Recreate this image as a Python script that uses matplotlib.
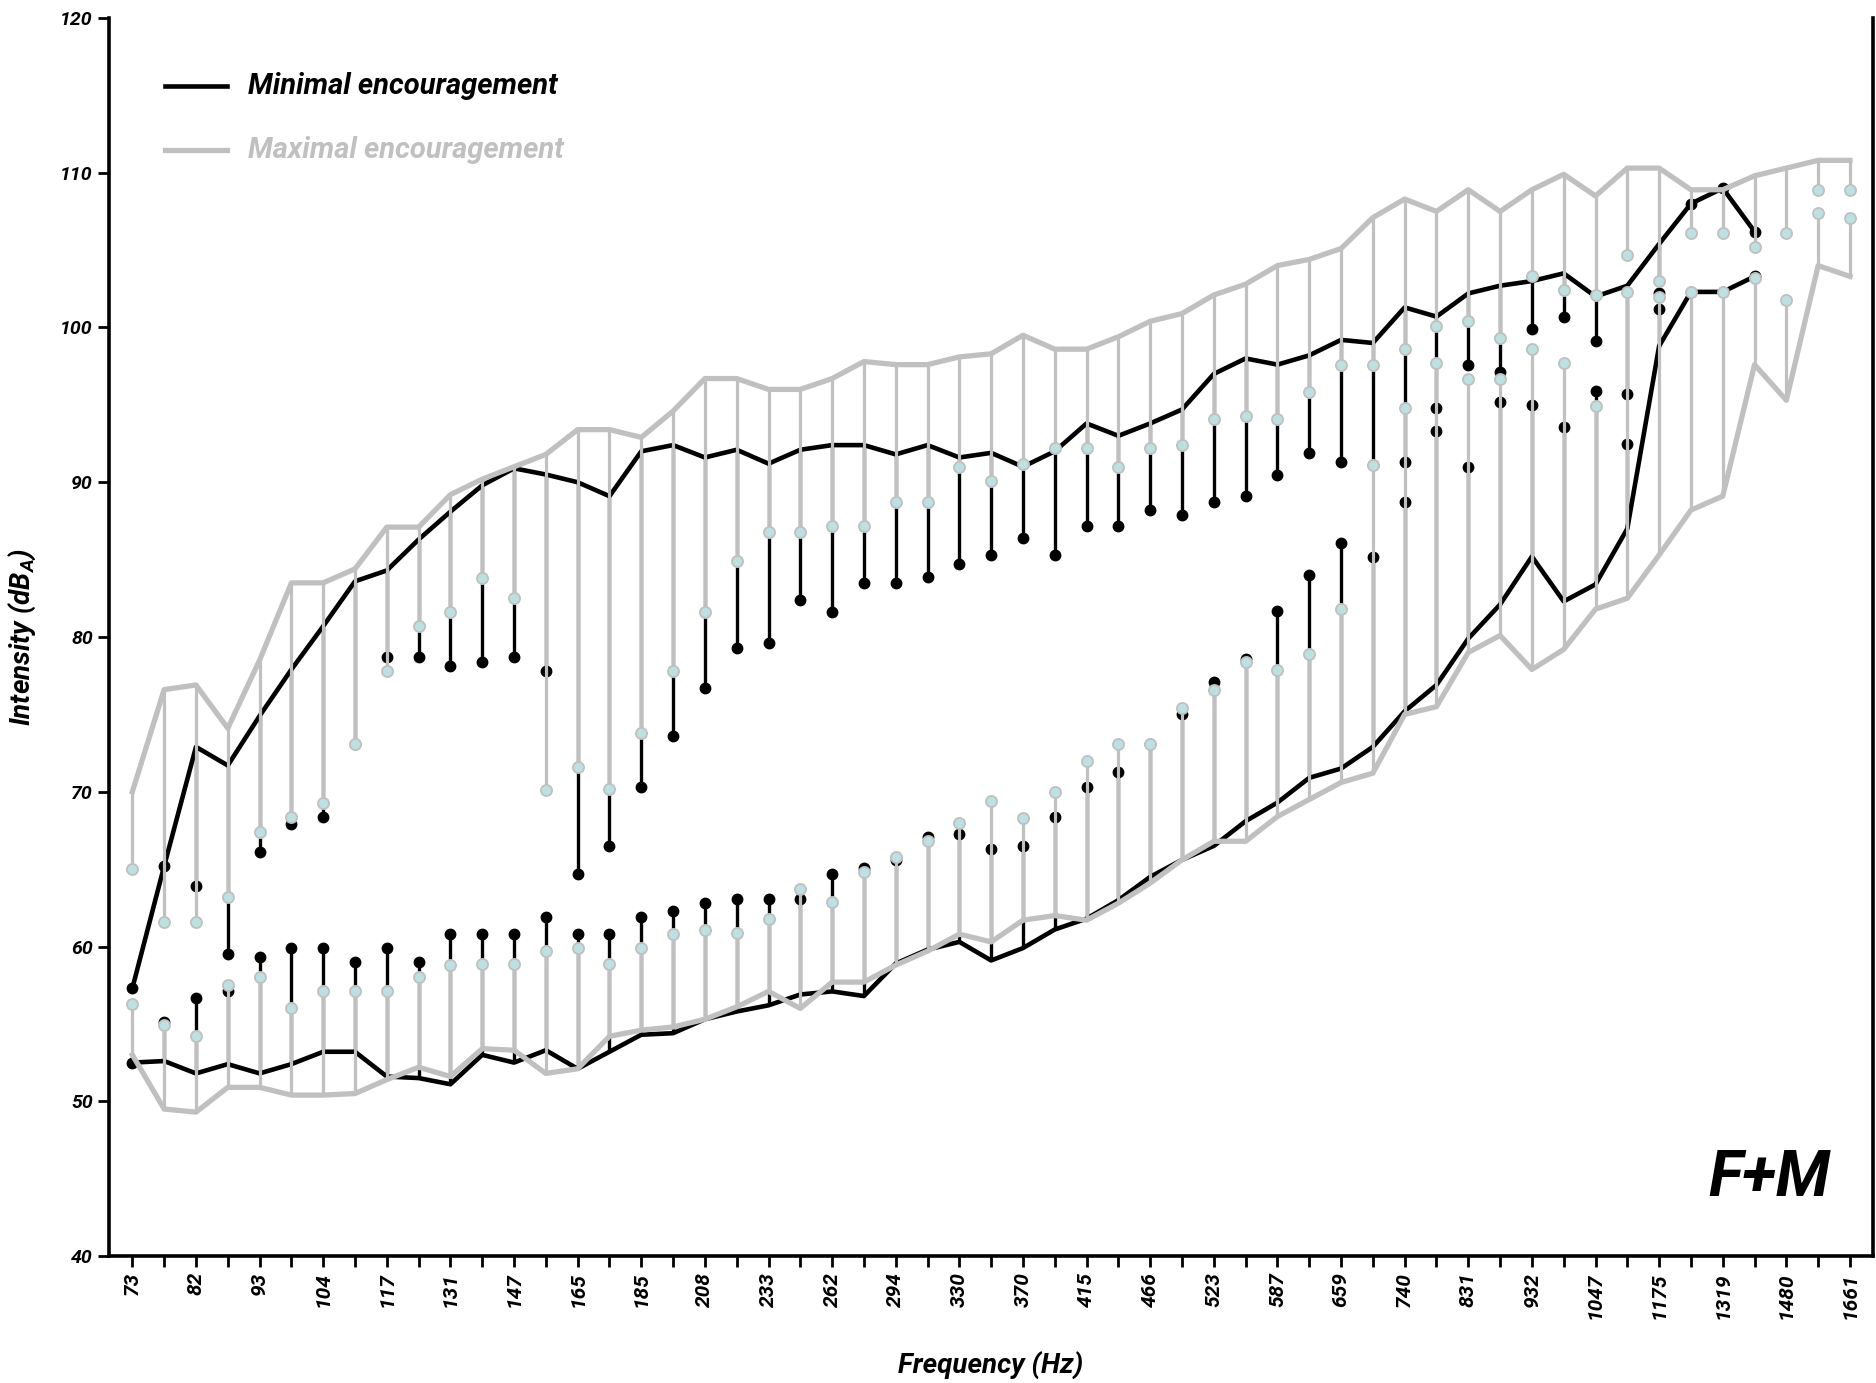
import numpy as np
import matplotlib
matplotlib.use('Agg')
import matplotlib.pyplot as plt

# semitone steps from 73 Hz to 1661 Hz, labels every 2 semitones
freq_labels = ['73', '82', '93', '104', '117', '131', '147', '165', '185', '208',
               '233', '262', '294', '330', '370', '415', '466', '523', '587', '659',
               '740', '831', '932', '1047', '1175', '1319', '1480', '1661']

# maximal encouragement (gray): upper contour, its SD dot, lower contour, its SD dot
max_upper = [70.0, 76.6, 76.9, 74.1, 78.5, 83.5, 83.5, 84.4, 87.1, 87.1,
             89.2, 90.2, 91.0, 91.8, 93.4, 93.4, 92.9, 94.6, 96.7, 96.7,
             96.0, 96.0, 96.7, 97.8, 97.6, 97.6, 98.1, 98.3, 99.5, 98.6,
             98.6, 99.4, 100.4, 100.9, 102.1, 102.8, 104.0, 104.4, 105.1, 107.1,
             108.3, 107.5, 108.9, 107.5, 108.9, 109.9, 108.5, 110.3, 110.3, 108.9,
             108.9, 109.8, 110.3, 110.8, 110.8]
max_upper_dot = [65.0, 61.6, 61.6, 63.2, 67.4, 68.4, 69.3, 73.1, 77.8, 80.7,
                 81.6, 83.8, 82.5, 70.1, 71.6, 70.2, 73.8, 77.8, 81.6, 84.9,
                 86.8, 86.8, 87.2, 87.2, 88.7, 88.7, 91.0, 90.1, 91.2, 92.2,
                 92.2, 91.0, 92.2, 92.4, 94.1, 94.3, 94.1, 95.8, 97.6, 97.6,
                 98.6, 100.1, 100.4, 99.3, 103.3, 102.4, 102.1, 104.7, 103.0, 106.1,
                 106.1, 105.2, 106.1, 108.9, 108.9]
max_lower = [53.0, 49.5, 49.3, 50.9, 50.9, 50.4, 50.4, 50.5, 51.4, 52.2,
             51.6, 53.4, 53.3, 51.8, 52.1, 54.2, 54.6, 54.8, 55.3, 56.1,
             57.1, 56.0, 57.7, 57.7, 58.8, 59.7, 60.8, 60.3, 61.7, 62.0,
             61.7, 62.8, 64.1, 65.6, 66.8, 66.8, 68.4, 69.5, 70.6, 71.2,
             75.0, 75.5, 79.0, 80.1, 77.9, 79.2, 81.8, 82.5, 85.3, 88.2,
             89.1, 97.6, 95.3, 104.0, 103.3]
max_lower_dot = [56.3, 54.9, 54.2, 57.5, 58.0, 56.0, 57.1, 57.1, 57.1, 58.0,
                 58.8, 58.9, 58.9, 59.7, 59.9, 58.9, 59.9, 60.8, 61.1, 60.9,
                 61.8, 63.7, 62.9, 64.8, 65.8, 66.8, 68.0, 69.4, 68.3, 70.0,
                 72.0, 73.1, 73.1, 75.4, 76.6, 78.4, 77.9, 78.9, 81.8, 91.1,
                 94.8, 97.7, 96.7, 96.7, 98.6, 97.7, 94.9, 102.3, 102.0, 102.3,
                 102.3, 103.2, 101.8, 107.4, 107.1]

# minimal encouragement (black), up to 1397 Hz
min_upper = [57.3, 65.2, 72.9, 71.7, 74.9, 77.9, 80.7, 83.6, 84.3, 86.3,
             88.1, 89.8, 90.9, 90.5, 90.0, 89.1, 92.0, 92.4, 91.6, 92.1,
             91.2, 92.1, 92.4, 92.4, 91.8, 92.4, 91.6, 91.9, 91.0, 92.0,
             93.8, 93.0, 93.8, 94.7, 97.0, 98.0, 97.6, 98.2, 99.2, 99.0,
             101.3, 100.7, 102.2, 102.7, 103.0, 103.5, 102.0, 102.7, 105.4, 108.0,
             109.0, 106.2]
min_upper_dot = [57.3, 65.2, 63.9, 59.5, 66.1, 67.9, 68.4, 73.1, 78.7, 78.7,
                 78.1, 78.4, 78.7, 77.8, 64.7, 66.5, 70.3, 73.6, 76.7, 79.3,
                 79.6, 82.4, 81.6, 83.5, 83.5, 83.9, 84.7, 85.3, 86.4, 85.3,
                 87.2, 87.2, 88.2, 87.9, 88.7, 89.1, 90.5, 91.9, 91.3, 91.1,
                 91.3, 94.8, 97.6, 97.1, 99.9, 100.7, 99.1, 95.7, 102.2, 108.0,
                 109.0, 106.2]
min_lower = [52.5, 52.6, 51.8, 52.4, 51.8, 52.4, 53.2, 53.2, 51.6, 51.5,
             51.1, 53.0, 52.5, 53.3, 52.1, 53.2, 54.3, 54.4, 55.3, 55.8,
             56.2, 56.9, 57.1, 56.8, 58.9, 59.8, 60.3, 59.1, 59.9, 61.1,
             61.8, 63.0, 64.5, 65.6, 66.5, 68.1, 69.3, 70.9, 71.5, 72.9,
             75.2, 76.9, 79.9, 82.1, 85.2, 82.3, 83.4, 87.0, 98.8, 102.3,
             102.3, 103.3]
min_lower_dot = [52.5, 55.1, 56.7, 57.1, 59.3, 59.9, 59.9, 59.0, 59.9, 59.0,
                 60.8, 60.8, 60.8, 61.9, 60.8, 60.8, 61.9, 62.3, 62.8, 63.1,
                 63.1, 63.1, 64.7, 65.1, 65.6, 67.1, 67.3, 66.3, 66.5, 68.4,
                 70.3, 71.3, 73.1, 75.0, 77.1, 78.6, 81.7, 84.0, 86.1, 85.2,
                 88.7, 93.3, 91.0, 95.2, 95.0, 93.6, 95.9, 92.5, 101.2, 102.3,
                 102.3, 103.3]

FONT = ['Roboto', 'DejaVu Sans']
plt.rcParams['font.family'] = FONT
plt.rcParams['mathtext.fontset'] = 'custom'
plt.rcParams['mathtext.it'] = 'Roboto:bold:italic'
plt.rcParams['mathtext.rm'] = 'Roboto:bold:italic'

GRAY = '#c0c0c0'
DOT = '#bde0e3'

fig = plt.figure(figsize=(18.76, 13.83), dpi=100)
ax = fig.add_axes([0.058, 0.0918, 0.9405, 0.8952])

xg = np.arange(len(max_upper))
xb = np.arange(len(min_upper))

# minimal encouragement (black)
ax.vlines(xb, min_upper, min_upper_dot, color='black', lw=2.4, zorder=1)
ax.vlines(xb, min_lower, min_lower_dot, color='black', lw=2.4, zorder=1)
ax.plot(xb, min_upper, color='black', lw=3.3, zorder=2)
ax.plot(xb, min_lower, color='black', lw=3.3, zorder=2)
ax.plot(xb, min_upper_dot, 'o', color='black', ms=7.5, zorder=3)
ax.plot(xb, min_lower_dot, 'o', color='black', ms=7.5, zorder=3)

# maximal encouragement (gray)
ax.vlines(xg, max_upper, max_upper_dot, color=GRAY, lw=2.3, zorder=4)
ax.vlines(xg, max_lower, max_lower_dot, color=GRAY, lw=2.3, zorder=4)
ax.plot(xg, max_upper, color=GRAY, lw=3.8, zorder=5)
ax.plot(xg, max_lower, color=GRAY, lw=3.8, zorder=5)
ax.plot(xg, max_upper_dot, 'o', mfc=DOT, mec=GRAY, mew=1.3, ms=8, zorder=6)
ax.plot(xg, max_lower_dot, 'o', mfc=DOT, mec=GRAY, mew=1.3, ms=8, zorder=6)

ax.set_xlim(-0.74, 54.73)
ax.set_ylim(40, 120)

ax.set_yticks(np.arange(40, 121, 10))
ax.set_yticklabels([str(v) for v in range(40, 121, 10)], fontsize=14,
                   fontweight='bold', fontstyle='italic')
ax.set_xticks(np.arange(0, 55, 2))
ax.set_xticklabels(freq_labels, rotation=90, fontsize=15,
                   fontweight='bold', fontstyle='italic')
ax.set_xticks(np.arange(1, 55, 2), minor=True)
ax.tick_params(axis='both', which='both', direction='out', length=8, width=2)

for side in ['left', 'bottom', 'right']:
    ax.spines[side].set_linewidth(2.6)
ax.spines['top'].set_visible(False)

ax.set_xlabel('Frequency (Hz)', fontsize=20, fontweight='bold',
              fontstyle='italic', labelpad=24)
ax.set_ylabel('Intensity (dB$_A$)', fontsize=20, fontweight='bold',
              fontstyle='italic', labelpad=16)

# legend
ax.plot([0.032, 0.067], [0.945, 0.945], color='black', lw=3.3,
        transform=ax.transAxes)
ax.text(0.079, 0.945, 'Minimal encouragement', transform=ax.transAxes,
        fontsize=21, fontweight='bold', fontstyle='italic', va='center')
ax.plot([0.032, 0.067], [0.893, 0.893], color=GRAY, lw=3.8,
        transform=ax.transAxes)
ax.text(0.079, 0.893, 'Maximal encouragement', transform=ax.transAxes,
        fontsize=21, fontweight='bold', fontstyle='italic', va='center',
        color=GRAY)

ax.text(0.976, 0.063, 'F+M', transform=ax.transAxes, fontsize=46,
        fontweight='bold', fontstyle='italic', ha='right', va='center')

fig.savefig('out.png', dpi=100)
